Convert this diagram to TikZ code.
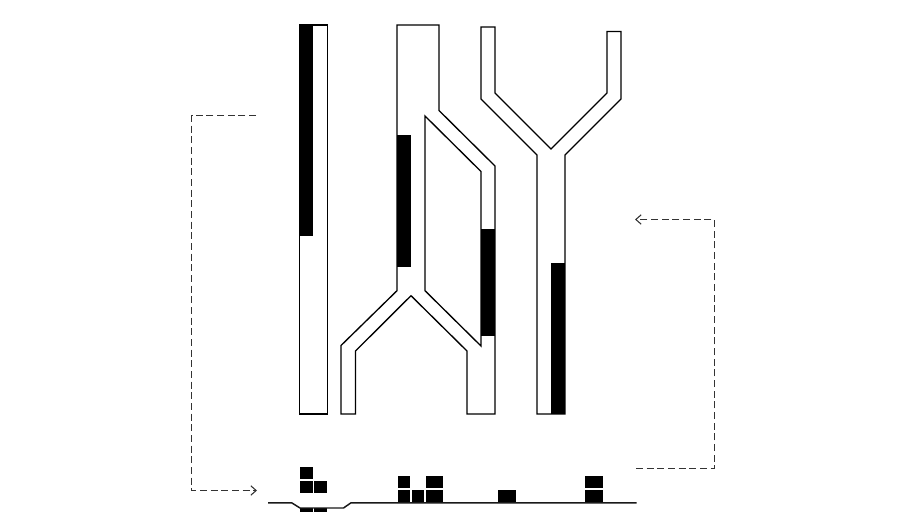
\documentclass[tikz,border=0pt]{standalone}
\usetikzlibrary{arrows.meta}
\tikzset{
  channel/.style={draw=black,line width=1pt,line join=miter,fill=none},
  band/.style={fill=black,draw=none},
  cell/.style={fill=black,draw=none},
  ground/.style={draw=black!90,line width=1.1pt},
  linkpath/.style={draw=black!80,line width=0.85pt,dash pattern=on 5.2pt off 2.8pt,-{Straight Barb[length=4pt,width=7pt,line width=0.8pt]}}
}
\begin{document}
\begin{tikzpicture}[x=0.75pt,y=-0.75pt]
\useasboundingbox (0,0) rectangle (900,528);
% filled bands
\fill[band] (299.5,25) rectangle (313,235.5);
\fill[band] (397,135) rectangle (411,266.5);
\fill[band] (481,228.5) rectangle (495,336);
\fill[band] (551,263) rectangle (565,414);
% channels
\draw[channel] (299.5,25) rectangle (327.5,414);
\draw[channel] (397,25) -- (439,25) -- (439,110.5) -- (495,166) -- (495,414) -- (467,414) -- (467,351) -- (411,295.7) -- (355.5,351) -- (355.5,414) -- (341,414) -- (341,345.5) -- (397,290.7) -- cycle;
\draw[channel] (425,116) -- (481,171.5) -- (481,346) -- (425,290.7) -- cycle;
\draw[channel] (481,27) -- (495,27) -- (495,93) -- (551,149) -- (607,93) -- (607,31.5) -- (621,31.5) -- (621,99) -- (565,155) -- (565,414) -- (537,414) -- (537,155) -- (481,99) -- cycle;
% stacked cells
\foreach \a/\b/\c/\d in {
 300/466.7/312.7/479.2, 300/480.7/312.7/493.3, 314/480.7/326.7/493.3,
 300/507.7/312.7/511.7, 314/507.7/326.7/511.7,
 397.7/476/410.3/488.3, 397.7/490/410.3/502.7, 411.7/490/424.3/502.7,
 426/476/443/488.3, 426/490/443/502.7,
 498.3/490/516.3/502.7,
 585.3/476/603.3/488.3, 585.3/490/603.3/502.7}
 {\fill[cell] (\a,\b) rectangle (\c,\d);}
% ground line
\draw[ground] (268,502.8) -- (291.7,502.8) -- (300,508) -- (343.5,508) -- (351,502.8) -- (636.7,502.8);
% dashed links
\coordinate (la) at (256,115.5);
\coordinate (lb) at (191.5,115.5);
\coordinate (lc) at (191.5,490.5);
\coordinate (ld) at (257,490.5);
\coordinate (ra) at (636,468.5);
\coordinate (rb) at (714.5,468.5);
\coordinate (rc) at (714.5,219.5);
\coordinate (rd) at (635,219.5);
\draw[linkpath] (la) -- (lb) -- (lc) -- (ld);
\draw[linkpath] (ra) -- (rb) -- (rc) -- (rd);
\end{tikzpicture}
\end{document}
